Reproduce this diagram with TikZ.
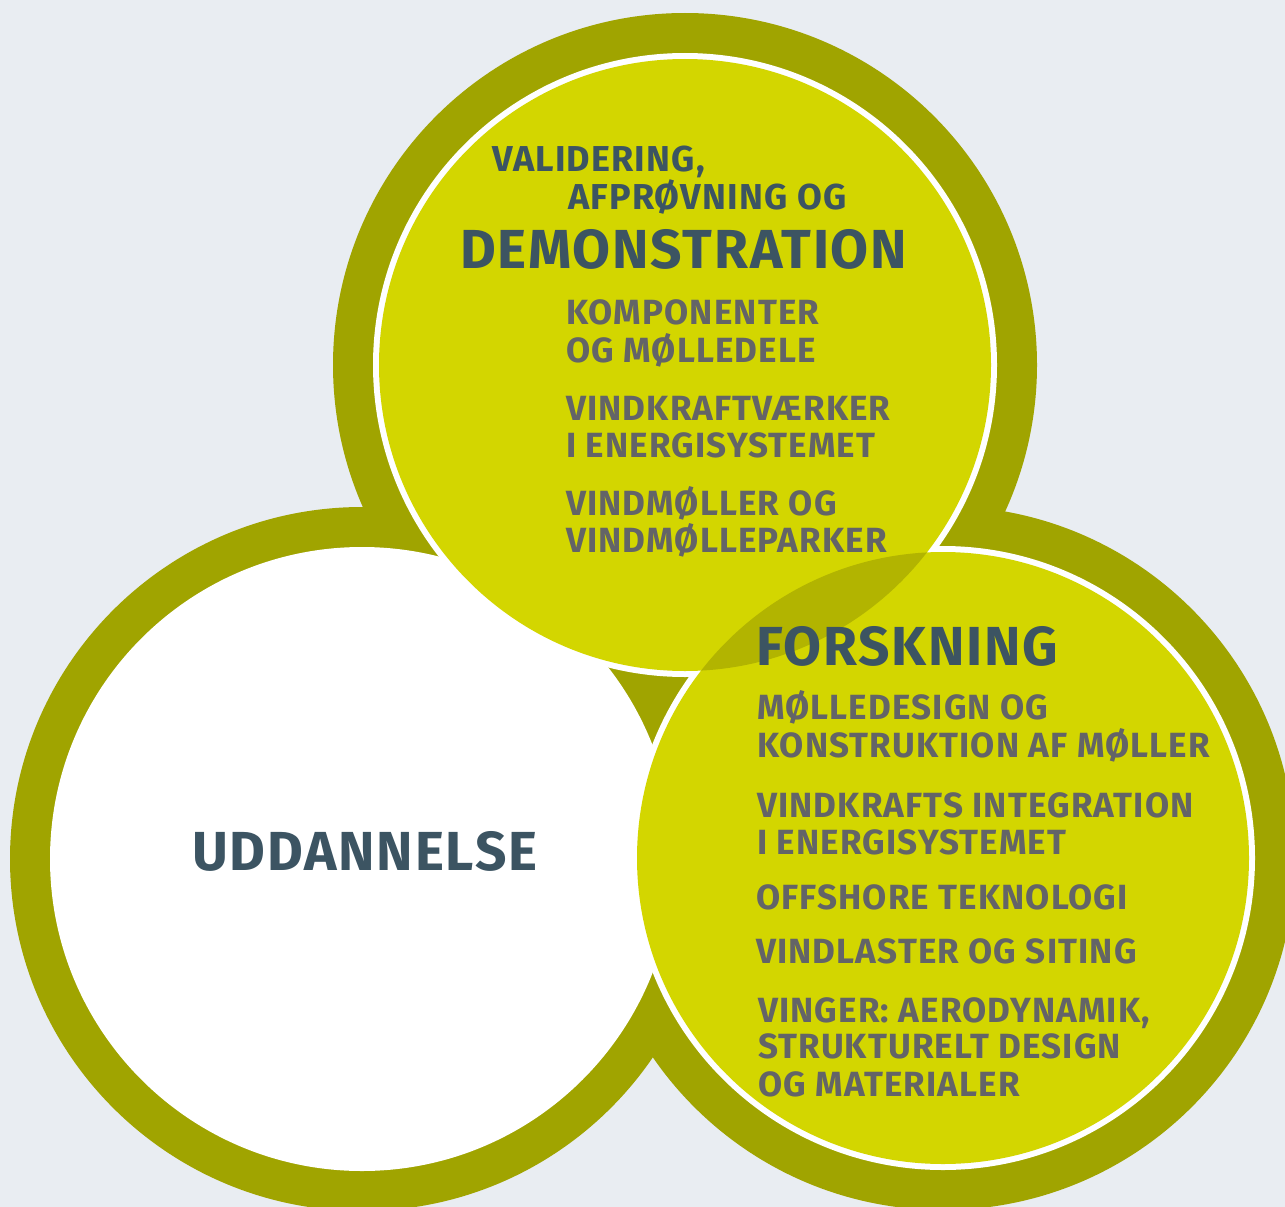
\documentclass[tikz,border=0pt]{standalone}
\usepackage{fontspec}
\setmainfont{Fira Sans}[LetterSpace=3.2]
\definecolor{bgcol}{HTML}{E9EDF2}
\definecolor{olive}{HTML}{A0A400}
\definecolor{lime}{HTML}{D3D600}
\definecolor{overlapcol}{HTML}{B2B400}
\definecolor{titlecol}{HTML}{3C5462}
\definecolor{itemcol}{HTML}{636467}
\begin{document}
\begin{tikzpicture}[x=1pt,y=1pt,
  ttl/.style={font=\fontsize{55}{55}\selectfont\bfseries, text=titlecol, anchor=base west, inner sep=0pt},
  sub/.style={font=\fontsize{36}{36}\selectfont\bfseries, text=titlecol, anchor=base west, inner sep=0pt},
  itm/.style={font=\fontsize{35}{35}\selectfont\bfseries, text=itemcol, anchor=base west, inner sep=0pt}]
\useasboundingbox (0,0) rectangle (1285,-1207);
\clip (0,0) rectangle (1285,-1207);
\fill[bgcol] (0,0) rectangle (1285,-1207);
% centres
\coordinate (ctop) at (685,-365);
\coordinate (cleft) at (362,-859);
\coordinate (cright) at (943,-858);
% outer olive rings
\fill[olive] (ctop) circle[radius=352pt];
\fill[olive] (cleft) circle[radius=352pt];
\fill[olive] (cright) circle[radius=352pt];
% inner discs
\fill[white] (cleft) circle[radius=312pt];
\fill[white] (ctop) circle[radius=312pt];
\fill[white] (cright) circle[radius=312pt];
\fill[lime] (ctop) circle[radius=306pt];
\fill[lime] (cright) circle[radius=306pt];
\begin{scope}
  \clip (ctop) circle[radius=306pt];
  \fill[overlapcol] (cright) circle[radius=306pt];
\end{scope}
% top circle texts
\node[sub] (t1) at (492,-171) {VALIDERING,};
\node[sub] (t2) at (568,-209) {AFPRØVNING OG};
\node[ttl] (t3) at (460,-268) {DEMONSTRATION};
\node[itm] (t4) at (566,-324) {KOMPONENTER};
\node[itm] (t5) at (566,-362) {OG MØLLEDELE};
\node[itm] (t6) at (566,-420) {VINDKRAFTVÆRKER};
\node[itm] (t7) at (566,-457) {I ENERGISYSTEMET};
\node[itm] (t8) at (566,-515) {VINDMØLLER OG};
\node[itm] (t9) at (566,-552) {VINDMØLLEPARKER};
% right circle texts
\node[ttl] (r1) at (756,-665) {FORSKNING};
\node[itm] (r2) at (757,-719) {MØLLEDESIGN OG};
\node[itm] (r3) at (757,-757) {KONSTRUKTION AF MØLLER};
\node[itm] (r4) at (757,-817) {VINDKRAFTS INTEGRATION};
\node[itm] (r5) at (757,-854) {I ENERGISYSTEMET};
\node[itm] (r6) at (756,-909) {OFFSHORE TEKNOLOGI};
\node[itm] (r7) at (756,-963) {VINDLASTER OG SITING};
\node[itm] (r8) at (758,-1022) {VINGER: AERODYNAMIK,};
\node[itm] (r9) at (758,-1058) {STRUKTURELT DESIGN};
\node[itm] (r10) at (758,-1096) {OG MATERIALER};
% left circle text
\node[ttl] (l1) at (192,-870) {UDDANNELSE};
\end{tikzpicture}
\end{document}
